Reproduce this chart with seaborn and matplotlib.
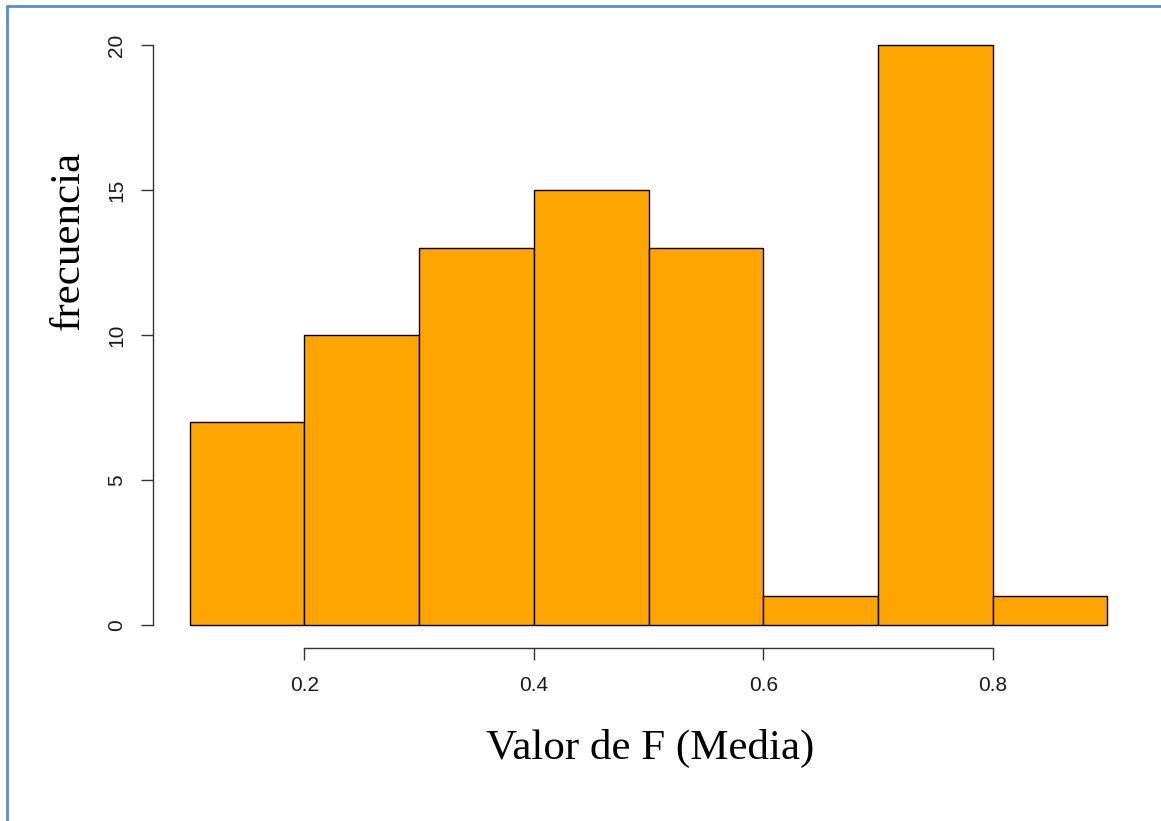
import numpy as np
import seaborn as sns
from matplotlib import pyplot as plt
from matplotlib.lines import Line2D

# histogram bins and counts
bin_edges = [0.1, 0.2, 0.3, 0.4, 0.5, 0.6, 0.7, 0.8, 0.9]
counts = [7, 10, 13, 15, 13, 1, 20, 1]
x_ticks = [0.2, 0.4, 0.6, 0.8]
y_ticks = [0, 5, 10, 15, 20]

sns.set_style("ticks")
plt.rcParams['font.family'] = ['Liberation Sans', 'DejaVu Sans']
plt.rcParams['text.color'] = 'black'

W, H = 1161, 821
fig = plt.figure(figsize=(W / 100, H / 100), dpi=100)
# axes box in pixels (R style: data range padded 4%)
left, right, top, bottom = 153, 1144, 22, 648
ax = fig.add_axes([left / W, 1 - bottom / H, (right - left) / W, (bottom - top) / H])

mids = (np.array(bin_edges[:-1]) + np.array(bin_edges[1:])) / 2
sns.histplot(x=mids, weights=counts, bins=bin_edges, color='#FFA500',
             edgecolor='black', linewidth=1, alpha=1, ax=ax)

ax.set_xlim(0.068, 0.932)
ax.set_ylim(-0.8, 20.8)
ax.set_xticks(x_ticks)
ax.set_xticklabels([f'{v:.1f}' for v in x_ticks])
ax.set_yticks(y_ticks)
ax.set_yticklabels([str(v) for v in y_ticks], rotation=90, va='center')

for s in ['top', 'right']:
    ax.spines[s].set_visible(False)
ax.spines['left'].set_bounds(0, 20)
ax.spines['bottom'].set_bounds(0.2, 0.8)
for s in ['left', 'bottom']:
    ax.spines[s].set_color('#333333')
    ax.spines[s].set_linewidth(1.0)
ax.tick_params(axis='both', length=8.5, width=1.0, color='#333333',
               labelsize=15, labelcolor='#1a1a1a', direction='out')
ax.tick_params(axis='x', pad=12)
ax.tick_params(axis='y', pad=11)

ax.set_xlabel('')
ax.set_ylabel('')
fig.text(650 / W, 1 - 748 / H, 'Valor de F (Media)', family='Liberation Serif',
         fontsize=31, ha='center', va='center', color='black')
fig.text(68 / W, 1 - 240 / H, 'frecuencia', family='Liberation Serif',
         fontsize=31, ha='center', va='center', rotation=90, color='black')

# blue frame on the left and top edges
bc = '#5b8bd0'
fig.add_artist(Line2D([6.5 / W, 6.5 / W], [0, 1 - 6 / H], color=bc, lw=2,
                      transform=fig.transFigure))
fig.add_artist(Line2D([6.5 / W, 1], [1 - 6 / H, 1 - 6 / H], color=bc, lw=2,
                      transform=fig.transFigure))

fig.savefig('out.png', dpi=100)
